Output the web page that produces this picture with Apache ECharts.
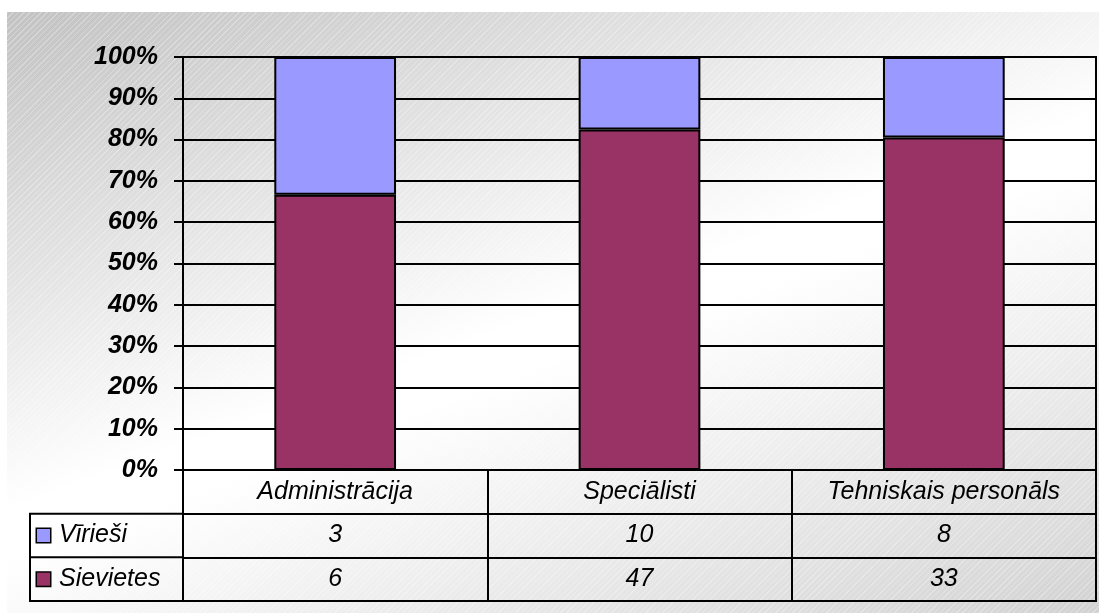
<!DOCTYPE html>
<html>
<head>
<meta charset="utf-8">
<script src="https://cdn.jsdelivr.net/npm/echarts@6/dist/echarts.min.js"></script>
<style>
  html, body { margin: 0; padding: 0; background: #fff; }
  #c {
    position: absolute; left: 7px; top: 12px; width: 1092px; height: 601px;
    background:
      repeating-linear-gradient(135deg, rgba(255,255,255,0.28) 0 1px, rgba(255,255,255,0) 1px 4px),
      linear-gradient(160deg, #c2c2c2 0%, #ffffff 50%, #ffffff 55%, #d2d2d2 100%);
  }
</style>
</head>
<body>
<div id="c"></div>
<script>
// counts per staff group (data table under the chart)
const categories = ["Administrācija", "Speciālisti", "Tehniskais personāls"];
const seriesNames = ["Vīrieši", "Sievietes"];
const virCounts = [3, 10, 8];
const sieCounts = [6, 47, 33];
const yTicks = [0, 10, 20, 30, 40, 50, 60, 70, 80, 90, 100];

const VIR = "#9999ff", SIE = "#993366"; // Excel 97 default pair
const FONT = "Liberation Sans, Arial, sans-serif";
const LINE = { color: "#000", width: 2 };

// layout (px, inside the chart box)
const PLOT_L = 176, PLOT_R = 3, PLOT_T = 45, TABLE_T = 458, TABLE_H = 131, LEG_L = 23;
const rowH = TABLE_H / 3;

// 100% stacked shares
const share = (a, b) => a.map((v, i) => (v / (a[i] + b[i])) * 100);
const sieShare = share(sieCounts, virCounts);
const virShare = share(virCounts, sieCounts);

// table cells: row 0 = category names, 1 = men, 2 = women
const cells = [];
categories.forEach((c, i) => {
  cells.push({ value: [i, 0], text: c });
  cells.push({ value: [i, 1], text: String(virCounts[i]) });
  cells.push({ value: [i, 2], text: String(sieCounts[i]) });
});

const chart = echarts.init(document.getElementById("c"), null, { renderer: "canvas" });
chart.setOption({
  animation: false,
  textStyle: { fontFamily: FONT },
  grid: [
    { left: PLOT_L, right: PLOT_R, top: PLOT_T, height: TABLE_T - PLOT_T, show: true, borderColor: "#000", borderWidth: 2 },
    { left: PLOT_L, right: PLOT_R, top: TABLE_T, height: TABLE_H, show: true, borderColor: "#000", borderWidth: 2 },
  ],
  xAxis: [
    { type: "category", gridIndex: 0, data: categories, axisLine: { lineStyle: LINE },
      axisTick: { show: false }, axisLabel: { show: false } },
    { type: "category", gridIndex: 1, data: categories, axisLine: { show: false },
      axisTick: { show: false }, axisLabel: { show: false },
      splitLine: { show: true, lineStyle: LINE } },
  ],
  yAxis: [
    { type: "value", gridIndex: 0, min: yTicks[0], max: yTicks[yTicks.length - 1], interval: 10,
      axisLine: { show: true, lineStyle: LINE },
      axisTick: { show: true, length: 9, lineStyle: LINE },
      splitLine: { show: true, lineStyle: LINE },
      axisLabel: { formatter: "{value}%", color: "#000", fontSize: 25, fontWeight: "bold",
        fontStyle: "italic", fontFamily: FONT, margin: 25 } },
    { type: "category", gridIndex: 1, inverse: true, data: [""].concat(seriesNames),
      axisLine: { show: true, lineStyle: LINE }, axisTick: { show: false },
      splitLine: { show: true, lineStyle: LINE },
      axisLabel: {
        align: "left", margin: PLOT_L - LEG_L - 7,
        formatter: (v, i) => (v ? `{b${i}|}{t|${v}}` : ""),
        rich: {
          b1: { width: 13, height: 13, backgroundColor: VIR, borderColor: "#000", borderWidth: 1.5 },
          b2: { width: 13, height: 13, backgroundColor: SIE, borderColor: "#000", borderWidth: 1.5 },
          t: { fontSize: 25, fontStyle: "italic", color: "#000", fontFamily: FONT, padding: [0, 0, 0, 9] },
        },
      } },
  ],
  series: [
    { name: seriesNames[1], type: "bar", stack: "all", barWidth: "40%", data: sieShare,
      itemStyle: { color: SIE, borderColor: "#000", borderWidth: 2 } },
    { name: seriesNames[0], type: "bar", stack: "all", barWidth: "40%", data: virShare,
      itemStyle: { color: VIR, borderColor: "#000", borderWidth: 2 } },
    { type: "scatter", xAxisIndex: 1, yAxisIndex: 1, symbolSize: 0, silent: true, data: cells,
      itemStyle: { opacity: 1 },
      label: { show: true, position: "inside", formatter: (p) => p.data.text,
        fontSize: 25, fontStyle: "italic", color: "#000", opacity: 1, fontFamily: FONT } },
  ],
  graphic: [
    { type: "rect", shape: { x: LEG_L, y: TABLE_T + rowH, width: PLOT_L - LEG_L, height: 2 * rowH },
      style: { fill: null, stroke: "#000", lineWidth: 2 }, z: 10 },
    { type: "line", shape: { x1: LEG_L, y1: TABLE_T + 2 * rowH, x2: PLOT_L, y2: TABLE_T + 2 * rowH },
      style: { stroke: "#000", lineWidth: 2 }, z: 10 },
  ],
});
</script>
</body>
</html>
